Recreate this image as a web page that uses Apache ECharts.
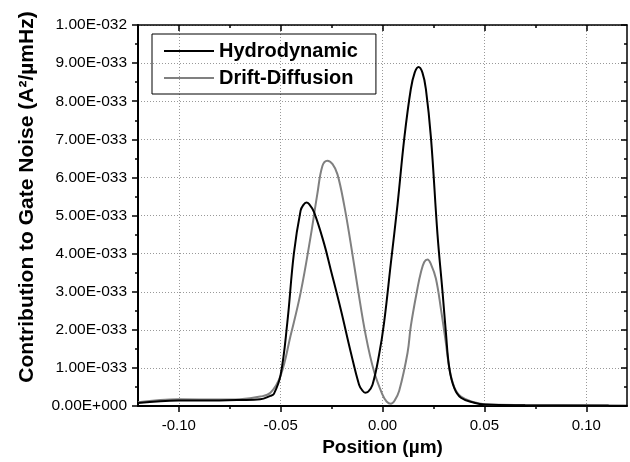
<!DOCTYPE html>
<html>
<head>
<meta charset="utf-8">
<script src="https://cdn.jsdelivr.net/npm/echarts@6/dist/echarts.min.js"></script>
<style>
  html, body { margin: 0; padding: 0; background: #fff; }
  #chart { width: 630px; height: 462px; }
</style>
</head>
<body>
<div id="chart"></div>
<script>
// values, y in units of 1E-033
const hydroX = [-0.12, -0.10, -0.08, -0.07, -0.06, -0.055, -0.0533, -0.05, -0.0467, -0.0435, -0.0402, -0.0388, -0.0374, -0.036, -0.0336, -0.0287, -0.0254, -0.0205, -0.0156, -0.0115, -0.01, -0.0085, -0.007, -0.0049, -0.0017, 0.0008, 0.0041, 0.0074, 0.0107, 0.0139, 0.0158, 0.0177, 0.0196, 0.0213, 0.0238, 0.027, 0.0295, 0.0311, 0.0328, 0.0352, 0.0385, 0.045, 0.05, 0.07, 0.12];
const hydroY = [0.08, 0.15, 0.15, 0.16, 0.18, 0.27, 0.32, 0.82, 2.2, 4.0, 5.13, 5.28, 5.34, 5.3, 5.09, 4.27, 3.58, 2.54, 1.42, 0.56, 0.42, 0.35, 0.38, 0.56, 1.34, 2.2, 3.75, 5.3, 7.03, 8.32, 8.75, 8.9, 8.75, 8.32, 7.03, 4.5, 2.97, 1.94, 0.99, 0.48, 0.22, 0.09, 0.04, 0.02, 0.01];

const driftX = [-0.12, -0.10, -0.08, -0.07, -0.06, -0.055, -0.05, -0.0451, -0.0402, -0.0353, -0.032, -0.0295, -0.0271, -0.0245, -0.0221, -0.0189, -0.0156, -0.0123, -0.0082, -0.0041, 0.0, 0.002, 0.0041, 0.006, 0.0082, 0.0123, 0.0139, 0.0172, 0.0188, 0.0205, 0.0221, 0.0238, 0.0262, 0.0287, 0.031, 0.0328, 0.0352, 0.0385, 0.045, 0.05, 0.07, 0.111];
const driftY = [0.1, 0.18, 0.17, 0.18, 0.25, 0.35, 0.8, 1.85, 2.97, 4.44, 5.56, 6.3, 6.44, 6.35, 6.08, 5.3, 4.27, 3.15, 1.85, 0.9, 0.3, 0.12, 0.06, 0.15, 0.4, 1.4, 2.1, 3.1, 3.5, 3.78, 3.85, 3.72, 3.35, 2.54, 1.7, 1.0, 0.5, 0.25, 0.1, 0.05, 0.03, 0.02];

const xMajor = [-0.10, -0.05, 0.00, 0.05, 0.10];
const xMinor = [-0.075, -0.025, 0.025, 0.075];

const FONT = 'Arial, "Liberation Sans", sans-serif';

const pairs = (xs, ys) => xs.map((x, i) => [x, ys[i]]);

const yLabel = v => {
  if (v === 0) return '0.00E+000';
  if (v === 10) return '1.00E-032';
  return v.toFixed(2) + 'E-033';
};

const dotted = { show: true, lineStyle: { color: '#999', width: 1, type: [1, 2] } };

const chart = echarts.init(document.getElementById('chart'));

chart.setOption({
  animation: false,
  grid: { left: 138, top: 25, right: 3, bottom: 50 },
  legend: {
    left: 152,
    top: 34,
    orient: 'vertical',
    padding: [7, 18, 6, 12],
    icon: 'rect',
    itemWidth: 50,
    itemHeight: 2,
    itemGap: 7,
    borderColor: '#000',
    borderWidth: 1,
    textStyle: { fontFamily: FONT, fontWeight: 'bold', fontSize: 20, color: '#000', lineHeight: 20 },
    data: ['Hydrodynamic', 'Drift-Diffusion']
  },
  xAxis: [
    {
      type: 'value', position: 'bottom', min: -0.12, max: 0.12,
      name: 'Position (µm)', nameLocation: 'middle', nameGap: 28,
      nameTextStyle: { fontFamily: FONT, fontWeight: 'bold', fontSize: 19, color: '#000' },
      axisLine: { onZero: false, lineStyle: { color: '#000', width: 2 } },
      axisTick: { customValues: xMajor, length: 6, lineStyle: { color: '#000', width: 1.5 } },
      axisLabel: { customValues: xMajor, formatter: v => v.toFixed(2), fontFamily: FONT, fontSize: 15, color: '#000', margin: 12 },
      splitLine: dotted
    },
    {
      type: 'value', position: 'bottom', min: -0.12, max: 0.12,
      axisLine: { show: false, onZero: false },
      axisTick: { customValues: xMinor, length: 3, lineStyle: { color: '#000', width: 1.5 } },
      axisLabel: { show: false },
      splitLine: { show: false }
    },
    {
      type: 'value', position: 'top', min: -0.12, max: 0.12,
      axisLine: { onZero: false, lineStyle: { color: '#000', width: 1.5 } },
      axisTick: { customValues: xMajor, inside: true, length: 6, lineStyle: { color: '#000', width: 1.5 } },
      axisLabel: { show: false },
      splitLine: { show: false }
    },
    {
      type: 'value', position: 'top', min: -0.12, max: 0.12,
      axisLine: { show: false, onZero: false },
      axisTick: { customValues: xMinor, inside: true, length: 3, lineStyle: { color: '#000', width: 1.5 } },
      axisLabel: { show: false },
      splitLine: { show: false }
    }
  ],
  yAxis: [
    {
      type: 'value', position: 'left', min: 0, max: 10, interval: 1,
      axisLine: { show: true, onZero: false, lineStyle: { color: '#000', width: 2 } },
      axisTick: { show: true, length: 6, lineStyle: { color: '#000', width: 1.5 } },
      minorTick: { show: true, splitNumber: 2, length: 3, lineStyle: { color: '#000', width: 1.5 } },
      axisLabel: { formatter: yLabel, fontFamily: FONT, fontSize: 15.5, color: '#000', margin: 11 },
      splitLine: dotted
    },
    {
      type: 'value', position: 'right', min: 0, max: 10, interval: 1,
      axisLine: { show: true, onZero: false, lineStyle: { color: '#000', width: 1.5 } },
      axisTick: { show: true, inside: true, length: 6, lineStyle: { color: '#000', width: 1.5 } },
      minorTick: { show: true, splitNumber: 2, length: 3, lineStyle: { color: '#000', width: 1.5 } },
      axisLabel: { show: false },
      splitLine: { show: false }
    }
  ],
  graphic: [
    {
      type: 'text', x: 27, y: 197, rotation: Math.PI / 2,
      style: {
        text: 'Contribution to Gate Noise (A²/µmHz)',
        font: 'bold 21px ' + FONT,
        fill: '#000',
        textAlign: 'center',
        textVerticalAlign: 'middle'
      }
    }
  ],
  series: [
    {
      name: 'Hydrodynamic', type: 'line', xAxisIndex: 0, yAxisIndex: 0,
      data: pairs(hydroX, hydroY), symbol: 'none', smooth: 0.4,
      lineStyle: { color: '#000', width: 2 }, itemStyle: { color: '#000' }, z: 3
    },
    {
      name: 'Drift-Diffusion', type: 'line', xAxisIndex: 0, yAxisIndex: 0,
      data: pairs(driftX, driftY), symbol: 'none', smooth: 0.4,
      lineStyle: { color: '#808080', width: 2 }, itemStyle: { color: '#808080' }, z: 2
    }
  ]
});
</script>
</body>
</html>
